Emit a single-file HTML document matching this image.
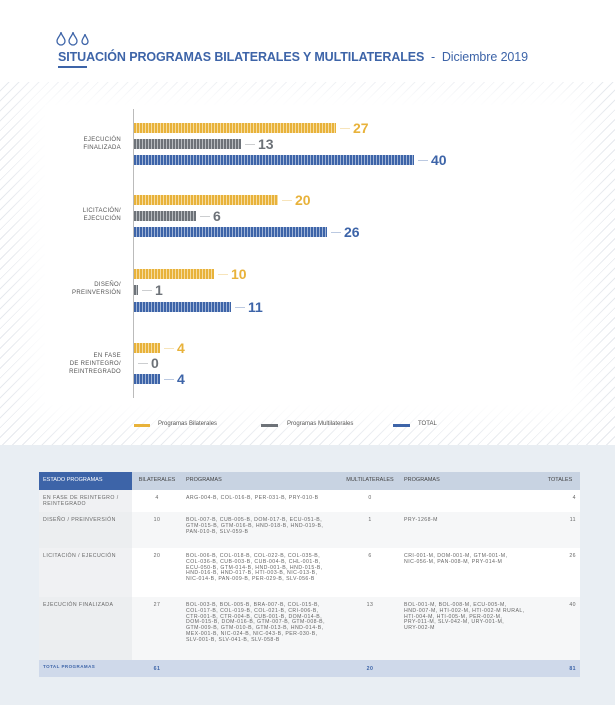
<!DOCTYPE html>
<html><head><meta charset="utf-8"><style>
*{margin:0;padding:0;box-sizing:border-box}
body{width:615px;height:705px;position:relative;overflow:hidden;background:#fff;font-family:"Liberation Sans",sans-serif}
.abs{position:absolute}
.hatch{left:0;top:82px;width:615px;height:363px;background:repeating-linear-gradient(135deg,#fff 0 6px,#e6e9ee 6px 7px)}
.inner{left:45px;top:105px;width:525px;height:300px;background:#fff;box-shadow:0 0 25px 18px #fff}
.bar{position:absolute;height:10px}
.y{background:repeating-linear-gradient(90deg,#e8b23a 0 2px,#f6dca0 2px 3px)}
.g{background:repeating-linear-gradient(90deg,#6d7278 0 2px,#b8bcc0 2px 3px)}
.b{background:repeating-linear-gradient(90deg,#3d64a8 0 2px,#9fb3d6 2px 3px)}
.dash{position:absolute;height:1px;width:10px}
.num{position:absolute;font-size:14px;font-weight:bold;line-height:14px}
.cat{position:absolute;right:494px;text-align:right;font-size:6px;line-height:8px;color:#555;letter-spacing:.3px}
.leg{position:absolute;font-size:6px;color:#555}
table{position:absolute;left:39px;top:472px;width:541px;border-collapse:collapse;font-size:5.2px;line-height:5.8px;color:#666;letter-spacing:.45px;table-layout:fixed}
td,th{vertical-align:top;padding:6px 4px 4px}
th{background:#c8d3e2;font-weight:normal;text-align:left;height:18px;vertical-align:middle;color:#444;letter-spacing:0;font-size:5.5px;padding:0 4px}
</style></head><body>
<div class="abs hatch"></div><div class="abs inner"></div>
<svg class="abs" style="left:56px;top:31px" width="36" height="15"><g fill="none" stroke="#3d64a8" stroke-width="1.3"><path d="M5 1 C5 4 1 7 1 10 A4 4 0 0 0 9 10 C9 7 5 4 5 1Z"/><path d="M17 1 C17 4 13 7 13 10 A4 4 0 0 0 21 10 C21 7 17 4 17 1Z"/><path d="M29 3 C29 5 26 8 26 10.5 A3 3 0 0 0 32 10.5 C32 8 29 5 29 3Z"/></g></svg>
<div class="abs" style="left:58px;top:50px;font-size:12.5px;color:#3d64a8;white-space:nowrap;letter-spacing:-.1px"><b style="font-weight:600">SITUACIÓN PROGRAMAS BILATERALES Y MULTILATERALES</b> &nbsp;-&nbsp; Diciembre 2019</div>
<div class="abs" style="left:58px;top:66px;width:29px;height:1.5px;background:#3d64a8"></div>
<div class="abs" style="left:133px;top:109px;width:1px;height:289px;background:#bbb"></div>
<div class="cat" style="top:136px">EJECUCIÓN<br>FINALIZADA</div>
<div class="cat" style="top:207px">LICITACIÓN/<br>EJECUCIÓN</div>
<div class="cat" style="top:281px">DISEÑO/<br>PREINVERSIÓN</div>
<div class="cat" style="top:352px">EN FASE<br>DE REINTEGRO/<br>REINTREGRADO</div>
<div id="bars"></div>
<div class="abs" style="left:134px;top:424px;width:16px;height:3px;background:#e8b23a"></div><div class="leg" style="left:158px;top:421px">Programas Bilaterales</div>
<div class="abs" style="left:261px;top:424px;width:17px;height:3px;background:#6d7278"></div><div class="leg" style="left:287px;top:421px">Programas Multilaterales</div>
<div class="abs" style="left:393px;top:424px;width:17px;height:3px;background:#3d64a8"></div><div class="leg" style="left:418px;top:421px">TOTAL</div>
<div class="abs" style="left:0;top:445px;width:615px;height:260px;background:#e9eef3"></div>
<table>
<colgroup><col style="width:93px"><col style="width:50px"><col style="width:158px"><col style="width:60px"><col style="width:140px"><col></colgroup>
<tr><th style="background:#3d64a8;color:#fff">ESTADO PROGRAMAS</th><th style="text-align:center">BILATERALES</th><th>PROGRAMAS</th><th style="text-align:center;padding:0 1px">MULTILATERALES</th><th>PROGRAMAS</th><th style="text-align:center">TOTALES</th></tr>
<tr style="background:#fff;height:22px"><td style="background:#f0f1f3">EN FASE DE REINTEGRO /<br>REINTEGRADO</td><td style="text-align:center">4</td><td>ARG-004-B, COL-016-B, PER-031-B, PRY-010-B</td><td style="text-align:center">0</td><td></td><td style="text-align:right">4</td></tr>
<tr style="background:#f6f7f8;height:36px"><td style="background:#eceef0">DISEÑO / PREINVERSIÓN</td><td style="text-align:center">10</td><td>BOL-007-B, CUB-005-B, DOM-017-B, ECU-051-B,<br>GTM-015-B, GTM-016-B, HND-018-B, HND-019-B,<br>PAN-010-B, SLV-059-B</td><td style="text-align:center">1</td><td>PRY-1268-M</td><td style="text-align:right">11</td></tr>
<tr style="background:#fff;height:49px"><td style="background:#f0f1f3">LICITACIÓN / EJECUCIÓN</td><td style="text-align:center">20</td><td>BOL-006-B, COL-018-B, COL-022-B, COL-035-B,<br>COL-036-B, CUB-003-B, CUB-004-B, CHL-001-B,<br>ECU-050-B, GTM-014-B, HND-001-B, HND-015-B,<br>HND-016-B, HND-017-B, HTI-003-B, NIC-013-B,<br>NIC-014-B, PAN-009-B, PER-029-B, SLV-056-B</td><td style="text-align:center">6</td><td>CRI-001-M, DOM-001-M, GTM-001-M,<br>NIC-056-M, PAN-008-M, PRY-014-M</td><td style="text-align:right">26</td></tr>
<tr style="background:#f6f7f8;height:63px"><td style="background:#eceef0">EJECUCIÓN FINALIZADA</td><td style="text-align:center">27</td><td>BOL-003-B, BOL-005-B, BRA-007-B, COL-015-B,<br>COL-017-B, COL-019-B, COL-021-B, CRI-006-B,<br>CTR-001-B, CTR-004-B, CUB-001-B, DOM-014-B,<br>DOM-015-B, DOM-016-B, GTM-007-B, GTM-008-B,<br>GTM-009-B, GTM-010-B, GTM-013-B, HND-014-B,<br>MEX-001-B, NIC-024-B, NIC-043-B, PER-030-B,<br>SLV-001-B, SLV-041-B, SLV-058-B</td><td style="text-align:center">13</td><td>BOL-001-M, BOL-008-M, ECU-005-M,<br>HND-007-M, HTI-002-M, HTI-002-M RURAL,<br>HTI-004-M, HTI-005-M, PER-002-M,<br>PRY-011-M, SLV-042-M, URY-001-M,<br>URY-002-M</td><td style="text-align:right">40</td></tr>
<tr style="background:#cfd9ea;height:16px;color:#3d64a8;font-weight:bold"><td style="font-size:4.5px;padding-top:4px">TOTAL PROGRAMAS</td><td style="text-align:center;padding-top:7px">61</td><td></td><td style="text-align:center;padding-top:7px">20</td><td></td><td style="text-align:right;padding-top:7px">81</td></tr>
</table>
<script>
var d=[[128,'y',336,27,'#e8b23a'],[144,'g',241,13,'#6d7278'],[160,'b',414,40,'#3d64a8'],
[200,'y',278,20,'#e8b23a'],[216,'g',196,6,'#6d7278'],[232,'b',327,26,'#3d64a8'],
[274,'y',214,10,'#e8b23a'],[290,'g',138,1,'#6d7278'],[307,'b',231,11,'#3d64a8'],
[348,'y',160,4,'#e8b23a'],[363,'g',134,0,'#6d7278'],[379,'b',160,4,'#3d64a8']];
var h='';d.forEach(function(r){var c=r[0],e=r[2];
if(e>134)h+='<div class="bar '+r[1]+'" style="left:134px;top:'+(c-5)+'px;width:'+(e-134)+'px"></div>';
h+='<div class="dash" style="left:'+(e+4)+'px;top:'+c+'px;background:'+r[4]+';opacity:.35"></div>';
h+='<div class="num" style="left:'+(e+17)+'px;top:'+(c-7)+'px;color:'+r[4]+'">'+r[3]+'</div>';});
document.getElementById('bars').innerHTML=h;
</script>
</body></html>
